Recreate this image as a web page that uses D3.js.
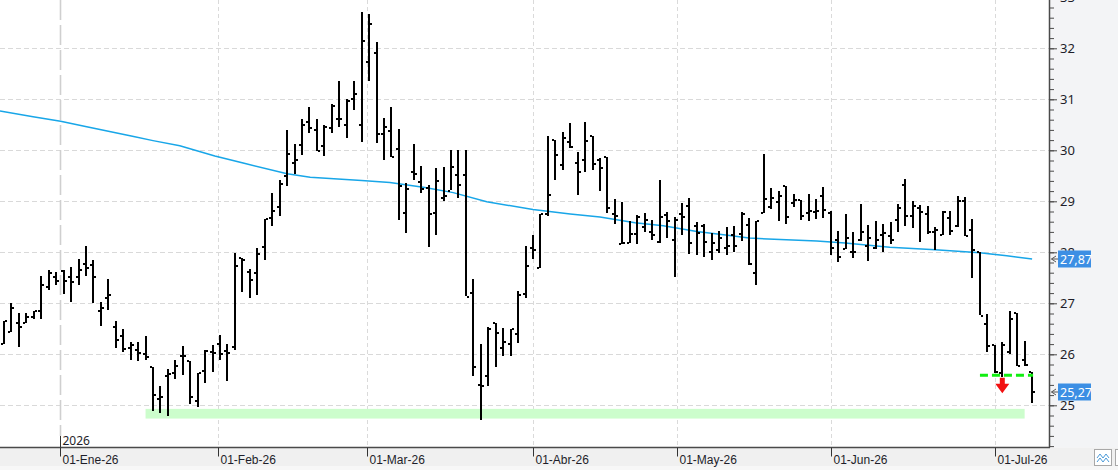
<!DOCTYPE html>
<html>
<head>
<meta charset="utf-8">
<script src="https://cdn.jsdelivr.net/npm/d3@7"></script>
<style>
  body { margin: 0; background: #fff; overflow: hidden; }
  svg { display: block; font-family: "Noto Sans", "DejaVu Sans", sans-serif; }
</style>
</head>
<body>
<svg id="chart"></svg>
<script>
// daily OHLC, one entry per session (late Dec 2025 -> early Jul 2026)
var opens = [
    26.20, 26.44, 26.61, 26.61, 26.73, 26.84, 27.31, 27.51, 27.63, 27.51,
    27.51, 27.78, 27.76, 26.84, 27.10, 26.53, 26.35, 26.12, 26.08, 26.00,
    25.75, 25.12, 25.58, 25.63, 25.96, 25.86, 25.08, 25.67, 26.04, 26.20,
    26.07, 26.15, 27.88, 27.61, 27.59, 28.10, 28.67, 28.88, 29.50, 29.75,
    30.10, 30.55, 30.39, 30.08, 30.43, 30.61, 30.49, 31.00, 30.49, 31.73,
    31.90, 30.31, 30.37, 30.02, 28.78, 29.57, 29.37, 29.27, 28.78, 29.06,
    29.21, 29.52, 29.52, 27.20, 25.39, 25.58, 26.61, 26.12, 26.20, 26.39,
    27.18, 28.08, 27.69, 28.75, 30.20, 29.71, 30.16, 29.75, 29.80, 30.29,
    29.80, 29.87, 28.75, 28.16, 28.18, 28.35, 28.49, 28.39, 28.20, 28.73,
    28.25, 28.76, 28.90, 28.51, 28.52, 28.00, 28.04, 28.08, 28.34, 28.35,
    28.53, 27.59, 28.78, 28.88, 28.99, 29.30, 28.97, 29.03, 28.77, 28.79,
    29.10, 28.78, 28.25, 28.06, 28.01, 28.24, 28.12, 28.08, 28.34, 28.32,
    28.63, 29.32, 28.71, 28.86, 28.75, 28.39, 28.33, 28.67, 28.51, 29.00,
    28.44, 28.00, 26.59, 26.18, 25.63, 26.05, 26.80, 25.89, 25.65
];
var highs = [
    26.65, 27.01, 26.80, 26.80, 26.85, 27.54, 27.65, 27.61, 27.65, 27.71,
    27.87, 28.12, 27.85, 27.03, 27.48, 26.65, 26.50, 26.24, 26.24, 26.36,
    25.76, 25.38, 25.71, 25.89, 26.16, 25.87, 25.63, 26.08, 26.18, 26.38,
    26.20, 27.98, 27.88, 27.67, 28.08, 28.65, 29.17, 29.42, 30.40, 30.12,
    30.61, 30.85, 30.61, 30.49, 30.91, 31.36, 31.01, 31.36, 32.71, 32.67,
    32.12, 30.63, 30.85, 30.42, 29.35, 30.12, 29.69, 29.32, 29.65, 29.68,
    30.00, 30.00, 30.00, 27.48, 26.20, 26.53, 26.61, 26.51, 26.49, 27.24,
    28.12, 28.33, 28.75, 30.28, 30.20, 30.36, 30.54, 29.96, 30.56, 30.29,
    29.84, 29.87, 29.04, 28.99, 28.62, 28.73, 28.77, 28.63, 29.42, 28.79,
    28.69, 28.97, 29.07, 28.59, 28.55, 28.37, 28.42, 28.50, 28.52, 28.79,
    28.67, 28.61, 29.93, 29.26, 29.20, 29.30, 29.14, 29.03, 29.14, 29.05,
    29.28, 28.81, 28.42, 28.75, 28.40, 28.95, 28.54, 28.62, 28.56, 28.59,
    28.95, 29.44, 29.01, 28.93, 28.91, 28.50, 28.81, 28.81, 29.10, 29.08,
    28.65, 28.00, 26.79, 26.18, 26.25, 26.85, 26.80, 26.26, 25.65
];
var lows = [
    26.20, 26.44, 26.13, 26.61, 26.69, 26.69, 27.25, 27.35, 27.18, 27.03,
    27.36, 27.54, 27.01, 26.56, 26.88, 26.13, 26.05, 25.89, 25.86, 25.89,
    24.90, 24.86, 24.78, 25.52, 25.59, 25.03, 24.96, 25.44, 25.66, 25.89,
    25.48, 26.08, 27.21, 27.11, 27.15, 27.85, 28.52, 28.72, 29.31, 29.54,
    29.90, 30.35, 29.98, 29.88, 30.35, 30.46, 30.25, 30.80, 30.17, 31.35,
    30.13, 29.80, 29.86, 28.63, 28.37, 29.41, 29.16, 28.11, 28.34, 29.02,
    29.21, 29.05, 27.13, 25.58, 24.71, 25.37, 25.74, 25.97, 25.97, 26.22,
    27.11, 27.85, 27.69, 28.71, 29.42, 29.61, 30.05, 29.11, 29.58, 29.62,
    29.19, 28.78, 28.55, 28.16, 28.18, 28.17, 28.39, 28.23, 28.19, 28.29,
    27.52, 28.35, 27.97, 27.95, 27.90, 27.84, 27.99, 27.95, 28.01, 28.22,
    27.74, 27.35, 28.78, 28.84, 28.62, 28.56, 28.88, 28.64, 28.62, 28.65,
    28.68, 27.95, 27.82, 28.06, 27.90, 28.22, 27.84, 28.07, 28.01, 28.16,
    28.41, 28.52, 28.48, 28.21, 28.37, 28.05, 28.33, 28.33, 28.50, 28.31,
    27.50, 26.76, 26.05, 25.63, 25.56, 26.01, 25.76, 25.77, 25.04
];
var closes = [
    26.65, 26.90, 26.54, 26.73, 26.85, 27.35, 27.59, 27.43, 27.43, 27.41,
    27.65, 27.69, 27.51, 26.90, 27.16, 26.29, 26.10, 26.18, 26.02, 25.95,
    25.20, 25.17, 25.61, 25.77, 25.96, 25.16, 25.63, 26.07, 26.02, 26.00,
    26.02, 27.73, 27.85, 27.45, 27.96, 28.65, 28.80, 29.33, 29.92, 29.80,
    30.49, 30.43, 29.99, 30.45, 30.86, 30.61, 30.96, 31.10, 32.14, 32.47,
    30.31, 30.45, 29.86, 29.30, 29.24, 29.53, 29.25, 28.76, 29.40, 29.10,
    29.67, 29.31, 27.13, 25.75, 25.38, 26.49, 26.41, 26.25, 26.49, 27.16,
    27.73, 28.05, 28.75, 29.12, 29.90, 30.24, 30.07, 29.58, 30.18, 29.73,
    29.65, 28.86, 28.71, 28.18, 28.35, 28.69, 28.63, 28.33, 28.69, 28.61,
    28.63, 28.69, 28.18, 28.37, 28.20, 28.18, 28.29, 28.12, 28.12, 28.75,
    27.78, 28.61, 29.05, 29.07, 29.11, 28.69, 29.02, 28.71, 28.81, 28.81,
    28.83, 28.08, 27.91, 28.28, 28.00, 28.39, 28.29, 28.25, 28.37, 28.24,
    28.86, 28.71, 28.90, 28.79, 28.39, 28.44, 28.79, 28.42, 29.00, 28.31,
    28.05, 26.76, 26.16, 25.65, 26.18, 26.69, 25.77, 25.79, 25.27
];

// long moving average, read at a few sessions (index, value)
var maIdx = [-0.54, 3.9, 7.6, 11.1, 17.4, 20, 23.6, 28.3, 32.1, 38, 41.1, 48, 51.8, 56.5,
    60.3, 64.8, 71, 76, 80, 84.7, 88.5, 93, 97.4, 100, 104.2, 109.1, 112.9, 118.9, 125, 131, 134.6, 138];
var maVal = [30.77, 30.66, 30.57, 30.46, 30.27, 30.19, 30.09, 29.89, 29.75, 29.54, 29.47, 29.41, 29.37, 29.27,
    29.17, 28.99, 28.84, 28.75, 28.69, 28.58, 28.52, 28.41, 28.33, 28.28, 28.25, 28.22, 28.18, 28.10, 28.05, 27.99, 27.93, 27.87];

// month boundaries (session index where the 1st of the month falls)
var monthPos = [7.5, 28.67, 48.67, 71, 90.4, 111, 133];
var monthLabels = ["01-Ene-26", "01-Feb-26", "01-Mar-26", "01-Abr-26", "01-May-26", "01-Jun-26", "01-Jul-26"];
var yearLabel = "2026";
var priceTicks = [25, 26, 27, 28, 29, 30, 31, 32, 33];

// support zone + breakdown level
var supportZone = [24.74, 24.93], supportFrom = 19, supportTo = 137;
var breakLevel = 25.59, breakFrom = 131, breakTo = 138;
var arrowIdx = 134, arrowTop = 25.54;
var lastMA = 27.87, lastClose = 25.27;

const chartW = 1118,
    chartH = 470,
    plotR = 1049,
    axisY = 447.5;

var svg = d3.select("#chart").attr("width", chartW).attr("height", chartH);
var fmt = d3.formatLocale({decimal: ",", thousands: ".", grouping: [3], currency: ["", ""]}).format(".2f");

var xScale = d3.scaleLinear().domain([0, opens.length - 1]).range([4, 1032.1]);
var yScale = d3.scaleLinear().domain([25, 33]).range([405.3, -2.7]);

// backgrounds
svg.append("rect").attr("x", plotR).attr("y", 0).attr("width", chartW - plotR).attr("height", axisY)
    .attr("fill", "#f3f4f6");
svg.append("rect").attr("x", 0).attr("y", axisY).attr("width", chartW).attr("height", 19)
    .attr("fill", "#f0f0f0");
svg.append("rect").attr("x", 0).attr("y", axisY + 19).attr("width", chartW).attr("height", 4)
    .attr("fill", "#f7f7f7");

// horizontal grid
svg.append("g").selectAll("line")
    .data(priceTicks)
    .enter()
    .append("line")
    .attr("x1", 0).attr("x2", plotR)
    .attr("y1", function(d) {return Math.round(yScale(d)) + 0.5;})
    .attr("y2", function(d) {return Math.round(yScale(d)) + 0.5;})
    .attr("stroke", "#d9d9d9")
    .attr("stroke-dasharray", "5,3");

// vertical month grid (first one is the year break)
svg.append("g").selectAll("line")
    .data(monthPos)
    .enter()
    .append("line")
    .attr("x1", function(d) {return Math.round(xScale(d)) + 0.5;})
    .attr("x2", function(d) {return Math.round(xScale(d)) + 0.5;})
    .attr("y1", 0).attr("y2", function(d, i) {return i === 0 ? 436 : axisY;})
    .attr("stroke", function(d, i) {return i === 0 ? "#cfcfcf" : "#dadada";})
    .attr("stroke-width", function(d, i) {return i === 0 ? 1.6 : 1;})
    .attr("stroke-dasharray", function(d, i) {return i === 0 ? "20,5" : "4,3";});

// support zone
svg.append("rect")
    .attr("x", xScale(supportFrom))
    .attr("width", xScale(supportTo) - xScale(supportFrom))
    .attr("y", yScale(supportZone[1]))
    .attr("height", yScale(supportZone[0]) - yScale(supportZone[1]))
    .attr("fill", "#ccfdcc");

// moving average
var maLine = d3.line()
    .x(function(d) {return xScale(d);})
    .y(function(d, i) {return yScale(maVal[i]);});
svg.append("path")
    .datum(maIdx)
    .attr("d", maLine)
    .attr("fill", "none")
    .attr("stroke", "#18a6e8")
    .attr("stroke-width", 1.5);

// OHLC bars
var bars = svg.append("g").attr("fill", "#000").attr("shape-rendering", "crispEdges");
var idx = d3.range(opens.length);
bars.selectAll(".hl")
    .data(idx)
    .enter()
    .append("rect")
    .attr("x", function(i) {return Math.round(xScale(i)) - 1;})
    .attr("width", 2)
    .attr("y", function(i) {return Math.round(yScale(highs[i]));})
    .attr("height", function(i) {return Math.max(1, Math.round(yScale(lows[i]) - yScale(highs[i])));});
bars.selectAll(".op")
    .data(idx)
    .enter()
    .append("rect")
    .attr("x", function(i) {return Math.round(xScale(i)) - 3;})
    .attr("width", 2)
    .attr("y", function(i) {return Math.round(yScale(opens[i])) - 1;})
    .attr("height", 2);
bars.selectAll(".cl")
    .data(idx)
    .enter()
    .append("rect")
    .attr("x", function(i) {return Math.round(xScale(i)) + 1;})
    .attr("width", 2)
    .attr("y", function(i) {return Math.round(yScale(closes[i])) - 1;})
    .attr("height", 2);

// breakdown level + arrow
svg.append("line")
    .attr("x1", xScale(breakFrom)).attr("x2", xScale(breakTo) + 1)
    .attr("y1", yScale(breakLevel)).attr("y2", yScale(breakLevel))
    .attr("stroke", "#11ee11")
    .attr("stroke-width", 3)
    .attr("stroke-dasharray", "8,4");
var ax = xScale(arrowIdx), ay = yScale(arrowTop);
svg.append("path")
    .attr("d", "M" + (ax - 2.5) + "," + ay + "h5v6h4.5l-7,9.5l-7,-9.5h4.5z")
    .attr("fill", "#f21010");

// right price axis
svg.append("line")
    .attr("x1", plotR + 0.5).attr("x2", plotR + 0.5)
    .attr("y1", 0).attr("y2", axisY)
    .attr("stroke", "#4a4a4a").attr("stroke-width", 1.5);
var minorAxis = d3.axisRight(yScale)
    .tickValues(d3.range(121, 165).map(function(d) {return d / 5;}))
    .tickSize(4)
    .tickFormat("");
svg.append("g")
    .attr("transform", "translate(" + (plotR + 1) + ",0)")
    .call(minorAxis)
    .call(function(g) {g.select(".domain").remove();})
    .selectAll("line").attr("stroke", "#4a4a4a");
var majorAxis = d3.axisRight(yScale)
    .tickValues(priceTicks)
    .tickSize(7)
    .tickPadding(3)
    .tickFormat(d3.format("d"));
var gy = svg.append("g")
    .attr("transform", "translate(" + (plotR + 1) + ",0)")
    .call(majorAxis)
    .call(function(g) {g.select(".domain").remove();});
gy.selectAll("line").attr("stroke", "#4a4a4a");
gy.selectAll("text").attr("font-size", 13).attr("fill", "#1e1e2a")
    .attr("font-family", "\"Noto Sans\", sans-serif");

// last value tags
[lastMA, lastClose].forEach(function(v) {
    var yy = Math.round(yScale(v));
    svg.append("path")
        .attr("d", "M1056," + (yy - 3) + "L1051.5," + yy + "L1056," + (yy + 3) + "M1051.5," + yy + "H1058")
        .attr("fill", "none").attr("stroke", "#555").attr("stroke-width", 1);
    svg.append("rect")
        .attr("x", 1058).attr("y", yy - 8.5)
        .attr("width", 33).attr("height", 17)
        .attr("fill", "#3c8fe4");
    svg.append("text")
        .attr("x", 1060).attr("y", yy + 4.5)
        .attr("font-size", 12.5)
        .attr("fill", "#fff")
        .text(fmt(v));
});

// bottom time axis
svg.append("defs").append("clipPath").attr("id", "clipx")
    .append("rect").attr("x", 0).attr("y", 0).attr("width", plotR).attr("height", chartH);
svg.append("line")
    .attr("x1", 0).attr("x2", plotR + 1)
    .attr("y1", axisY).attr("y2", axisY)
    .attr("stroke", "#4a4a4a").attr("stroke-width", 1.5);
var xAxis = d3.axisBottom(xScale)
    .tickValues(monthPos)
    .tickSize(9)
    .tickFormat(function(d, i) {return monthLabels[i];});
var gx = svg.append("g")
    .attr("clip-path", "url(#clipx)")
    .attr("transform", "translate(0," + axisY + ")")
    .call(xAxis)
    .call(function(g) {g.select(".domain").remove();});
gx.selectAll(".tick").attr("transform", function(d) {return "translate(" + (Math.round(xScale(d)) + 0.5) + ",0)";});
gx.selectAll("line").attr("stroke", "#333");
gx.selectAll("text")
    .attr("text-anchor", "start")
    .attr("x", 2).attr("y", 16.5).attr("dy", 0)
    .attr("font-size", 12)
    .attr("fill", "#1e1e2a");

// year marker
var yx = Math.round(xScale(monthPos[0])) + 0.5;
svg.append("line").attr("x1", yx).attr("x2", yx).attr("y1", 436).attr("y2", axisY)
    .attr("stroke", "#333");
svg.append("text").attr("x", yx + 2).attr("y", 445)
    .attr("font-size", 12).attr("fill", "#1e1e2a")
    .text(yearLabel);

// small chart-type buttons, bottom right
svg.append("rect").attr("x", 1094.5).attr("y", 449.5).attr("width", 17).attr("height", 16)
    .attr("fill", "#fff").attr("stroke", "#a8a8a8");
svg.append("path").attr("d", "M1097,458l3,-4l3,4l3,-4l3,4M1097,462l3,-4l3,4l3,-4l3,4")
    .attr("fill", "none").attr("stroke", "#4a9ad8").attr("stroke-width", 1);
svg.append("rect").attr("x", 1115.5).attr("y", 449.5).attr("width", 6).attr("height", 16)
    .attr("fill", "#fff").attr("stroke", "#a8a8a8");
</script>
</body>
</html>
